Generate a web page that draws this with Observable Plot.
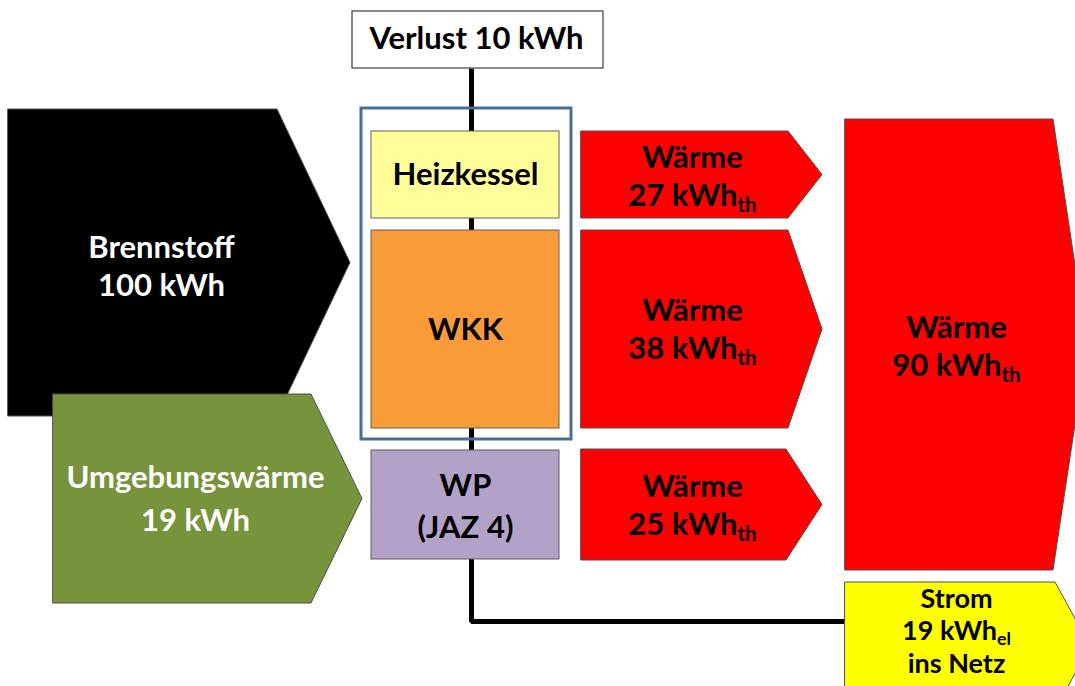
<!DOCTYPE html>
<html><head><meta charset="utf-8">
<script src="https://cdn.jsdelivr.net/npm/d3@7"></script>
<script src="https://cdn.jsdelivr.net/npm/@observablehq/plot@0.6"></script>
<style>body{margin:0;background:#fff;overflow:hidden}</style>
</head><body><div id="chart"></div>
<script>
// ---- data ----
const sources = ["Brennstoff", "Umgebungswärme"];
const sourceValues = [100, 19];          // kWh
const units = ["Heizkessel", "WKK", "WP"];
const unitNotes = ["", "", "(JAZ 4)"];
const heatValues = [27, 38, 25];         // kWh_th per unit
const totalHeat = [90];                  // kWh_th
const lossValue = [10];                  // kWh
const powerValue = [19];                 // kWh_el

// ---- layout (diagram geometry) ----
const FONT = "Lato, 'Open Sans', sans-serif";
const W = 1075, H = 686;
const arrows = [
  {x0: 8,   x1: 277,  x2: 350,  y0: 109, y1: 416, fill: "#000000"},   // Brennstoff
  {x0: 53,  x1: 311,  x2: 362,  y0: 394, y1: 603, fill: "#77933c"},   // Umgebungswärme
  {x0: 581, x1: 788,  x2: 822,  y0: 131, y1: 218, fill: "#ff0000"},   // Wärme 27
  {x0: 581, x1: 788,  x2: 822,  y0: 230, y1: 428, fill: "#ff0000"},   // Wärme 38
  {x0: 581, x1: 786,  x2: 822,  y0: 449, y1: 560, fill: "#ff0000"},   // Wärme 25
  {x0: 845, x1: 1053, x2: 1087, y0: 119, y1: 570, fill: "#ff0000"},   // Wärme 90
  {x0: 845, x1: 1055, x2: 1090, y0: 582, y1: 710, fill: "#ffff00"}    // Strom
];
const boxes = [
  {x1: 371, x2: 559, y1: 131, y2: 218, fill: "#ffff99"},
  {x1: 371, x2: 559, y1: 230, y2: 428, fill: "#f99b38"},
  {x1: 371, x2: 559, y1: 450, y2: 559, fill: "#b3a2c7"}
];
const lossBox = {x1: 352, x2: 603, y1: 11, y2: 68};
const frame = {x1: 361, x2: 571, y1: 108, y2: 439};
const wire = [{x: 471, y: 68}, {x: 471, y: 621}, {x: 845, y: 621}];

function arrowPts(a) {
  const ym = (a.y0 + a.y1) / 2;
  return [{x: a.x0, y1: a.y0, y2: a.y1}, {x: a.x1, y1: a.y0, y2: a.y1}, {x: a.x2, y1: ym, y2: ym}];
}

// text lines: [label, x, y, color, size]
const labels = [
  [`Verlust ${lossValue[0]} kWh`, 476, 39, "#000", 31],
  [sources[0], 161, 248, "#fff", 31],
  [`${sourceValues[0]} kWh`, 161, 286, "#fff", 31],
  [sources[1], 195, 478, "#fff", 31],
  [`${sourceValues[1]} kWh`, 195, 521, "#fff", 31],
  [units[0], 465, 175, "#000", 31],
  [units[1], 465, 330, "#000", 31],
  [units[2], 465, 486, "#000", 31],
  [unitNotes[2], 465, 528, "#000", 31],
  ["Wärme", 692, 158, "#000", 31],
  [`${heatValues[0]} kWh_th`, 692, 196, "#000", 31],
  ["Wärme", 692, 311, "#000", 31],
  [`${heatValues[1]} kWh_th`, 692, 349, "#000", 31],
  ["Wärme", 692, 487, "#000", 31],
  [`${heatValues[2]} kWh_th`, 692, 525, "#000", 31],
  ["Wärme", 956, 328, "#000", 31],
  [`${totalHeat[0]} kWh_th`, 956, 366, "#000", 31],
  ["Strom", 956, 599, "#000", 27],
  [`${powerValue[0]} kWh_el`, 956, 631, "#000", 27],
  ["ins Netz", 956, 664, "#000", 27]
].map(([label, x, y, color, size]) => ({label, x, y, color, size}));

const big = labels.filter(d => d.size === 31);
const small = labels.filter(d => d.size !== 31);
const textOpts = (size) => ({x: "x", y: "y", text: "label", fill: d => d.color, fontSize: size, fontWeight: "bold",
  fontFamily: FONT, textAnchor: "middle", lineAnchor: "middle"});

const marks = [
  Plot.line(wire, {x: "x", y: "y", stroke: "#000", strokeWidth: 5, strokeLinejoin: "miter", strokeLinecap: "butt"}),
  Plot.rect([lossBox], {x1: "x1", x2: "x2", y1: "y1", y2: "y2", fill: "#fff", stroke: "#404040", strokeWidth: 1.2}),
  ...arrows.map(a => Plot.area(arrowPts(a), {x1: "x", y1: "y1", y2: "y2", fill: a.fill, stroke: "#505050", strokeWidth: 1, clip: true})),
  Plot.rect([frame], {x1: "x1", x2: "x2", y1: "y1", y2: "y2", fill: "none", stroke: "#4a6d96", strokeWidth: 3}),
  Plot.rect(boxes, {x1: "x1", x2: "x2", y1: "y1", y2: "y2", fill: d => d.fill, stroke: "#606060", strokeWidth: 1}),
  Plot.text(big, textOpts(31)),
  Plot.text(small, textOpts(27))
];

const chart = Plot.plot({
  width: W, height: H,
  marginTop: 0, marginRight: 0, marginBottom: 0, marginLeft: 0,
  x: {domain: [0, W], range: [0, W], axis: null},
  y: {domain: [0, H], range: [0, H], axis: null},
  color: {type: "identity"},
  style: {background: "#fff", fontFamily: FONT},
  marks
});

// subscripts (th / el)
chart.querySelectorAll("text").forEach(t => {
  const s = t.textContent;
  if (s.includes("_")) {
    const [base, sub] = s.split("_");
    t.textContent = base;
    const ts = document.createElementNS("http://www.w3.org/2000/svg", "tspan");
    ts.setAttribute("font-size", "0.66em");
    ts.setAttribute("dy", "0.28em");
    ts.textContent = sub;
    t.appendChild(ts);
  }
});
document.getElementById("chart").appendChild(chart);
</script>
</body></html>
